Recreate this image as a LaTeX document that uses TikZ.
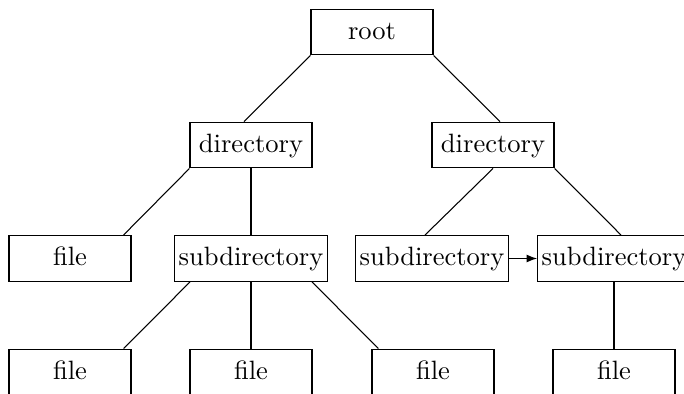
\documentclass[tikz,border=0pt]{standalone}
\usetikzlibrary{arrows.meta,calc}
\begin{document}
\begin{tikzpicture}[x=0.377pt,y=-0.377pt,
  box/.style={draw,minimum width=46pt,minimum height=17.3pt,inner xsep=1.5pt,
    text height=1.6ex,text depth=0.35ex},
  link/.style={draw,line width=0.4pt}]
\useasboundingbox (0,0) rectangle (684,394);
% tree nodes
\node[box] (root) at (372,32) {root};
\node[box] (dirL) at (251,145) {directory};
\node[box] (dirR) at (493,145) {directory};
\node[box] (fileL) at (70,258.5) {file};
\node[box] (sub) at (251,258.5) {subdirectory};
\node[box] (subA) at (432,258.5) {subdirectory};
\node[box] (subB) at (614,258.5) {subdirectory};
\node[box] (f1) at (70,372) {file};
\node[box] (f2) at (251,372) {file};
\node[box] (f3) at (433,372) {file};
\node[box] (f4) at (614,372) {file};
% edges
\draw[link] (root.south west) -- ([xshift=-7*0.377pt]dirL.north);
\draw[link] (root.south east) -- ([xshift=7*0.377pt]dirR.north);
\draw[link] (dirL.south west) -- ([xshift=-8*0.377pt]fileL.north east);
\draw[link] (dirL.south) -- (sub.north);
\draw[link] (dirR.south) -- ([xshift=-7*0.377pt]subA.north);
\draw[link] (dirR.south east) -- ([xshift=7*0.377pt]subB.north);
\draw[link] ([xshift=-61*0.377pt]sub.south) -- ([xshift=-8*0.377pt]f1.north east);
\draw[link] (sub.south) -- (f2.north);
\draw[link] ([xshift=61*0.377pt]sub.south) -- ([xshift=7*0.377pt]f3.north west);
\draw[link] (subB.south) -- (f4.north);
\draw[link,-{Latex[length=4pt,width=3pt]}] (subA.east) -- (subB.west);
\end{tikzpicture}
\end{document}
